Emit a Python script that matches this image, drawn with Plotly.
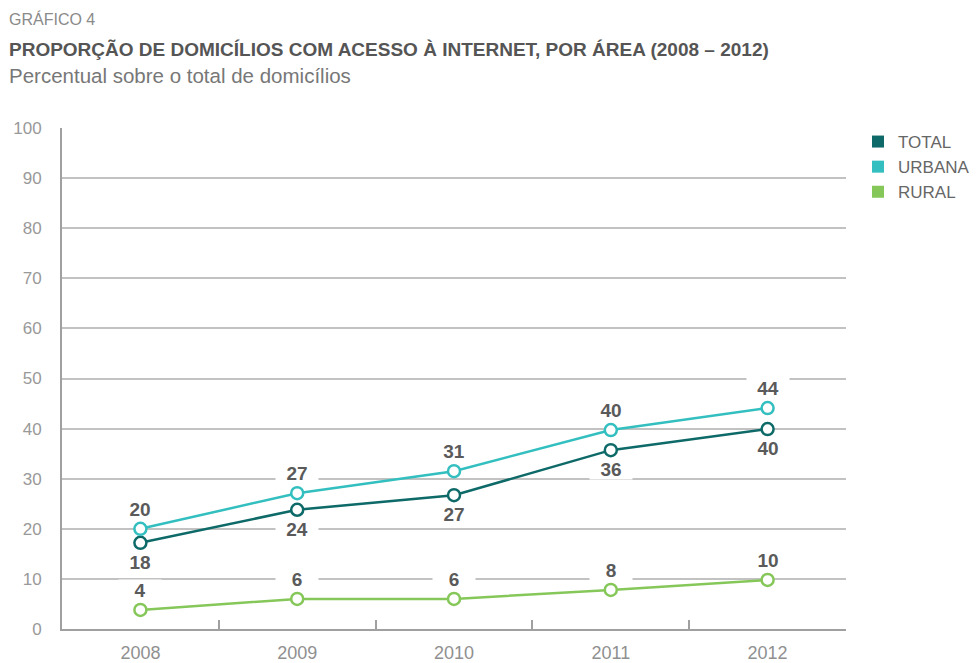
import plotly.graph_objects as go

years = [2008, 2009, 2010, 2011, 2012]
total = [17.2, 23.8, 26.7, 35.7, 39.9]
urbana = [20.0, 27.1, 31.5, 39.7, 44.1]
rural = [3.8, 6.0, 6.0, 7.8, 9.8]
total_labels = ["18", "24", "27", "36", "40"]
urbana_labels = ["20", "27", "31", "40", "44"]
rural_labels = ["4", "6", "6", "8", "10"]
y_ticks = [0, 10, 20, 30, 40, 50, 60, 70, 80, 90, 100]

C_TOTAL = "#0e6a68"
C_URB = "#33bfbf"
C_RUR = "#86c75a"
TXT = "#5a5a5a"
GRID = "#c2c2c2"
AXIS = "#a0a0a0"
FONT = "Liberation Sans, Arial, sans-serif"

ML, MR, MT, MB = 62, 131, 128, 34
PW, PH = 977 - ML - MR, 663 - MT - MB

fig = go.Figure()
series = [("TOTAL", total, total_labels, C_TOTAL, -1),
          ("URBANA", urbana, urbana_labels, C_URB, 1),
          ("RURAL", rural, rural_labels, C_RUR, 1)]
for name, vals, labs, col, pos in [series[2], series[0], series[1]]:
    fig.add_trace(go.Scatter(
        x=years, y=vals, mode="lines+markers", showlegend=False,
        line=dict(color=col, width=2.5),
        marker=dict(symbol="circle", size=12, color="white",
                    line=dict(color=col, width=2.5)),
        hoverinfo="skip"))
for name, vals, labs, col, pos in series:
    fig.add_trace(go.Scatter(
        x=[None], y=[None], mode="markers", name=name,
        marker=dict(symbol="square", size=16, color=col)))
    for x, v, t in zip(years, vals, labs):
        fig.add_annotation(
            x=x, y=v, xref="x", yref="y", text="<b>%s</b>" % t,
            showarrow=False, yshift=20 if pos > 0 else -19,
            bgcolor="white", width=40, height=18,
            font=dict(family=FONT, size=19, color=TXT))

fig.update_layout(
    width=977, height=663,
    margin=dict(l=ML, r=MR, t=MT, b=MB, autoexpand=False),
    plot_bgcolor="white", paper_bgcolor="white",
    font=dict(family=FONT, color="#8a8a8a"),
    legend=dict(xref="container", yref="container", x=858 / 977, y=1 - 124 / 663,
                xanchor="left", yanchor="top",
                font=dict(family=FONT, size=17, color="#666"),
                itemsizing="constant", tracegroupgap=0,
                bgcolor="rgba(0,0,0,0)"),
)
fig.update_xaxes(
    range=[2007.5, 2012.5], tickvals=years, ticktext=[str(y) for y in years],
    showgrid=False, zeroline=False, showline=True, linecolor=AXIS, linewidth=2,
    ticks="", ticklabelstandoff=6, automargin=False,
    tickfont=dict(family=FONT, size=18, color="#909090"),
    minor=dict(tickvals=[2008.5, 2009.5, 2010.5, 2011.5], ticks="inside",
               ticklen=9, tickwidth=2, tickcolor=AXIS, showgrid=False),
    fixedrange=True)
fig.update_yaxes(
    range=[0, 100], tickvals=y_ticks, showgrid=True, gridcolor=GRID, gridwidth=2,
    zeroline=False, showline=True, linecolor=AXIS, linewidth=2,
    ticks="", ticklabelstandoff=15, automargin=False,
    tickfont=dict(family=FONT, size=17, color="#999"), fixedrange=True)

def head(text, y_px, size, color, x_px=8):
    fig.add_annotation(xref="paper", yref="paper", x=(x_px - ML) / PW,
                       y=1 + (MT - y_px) / PH, xanchor="left", yanchor="middle",
                       showarrow=False, text=text, borderpad=0,
                       font=dict(family=FONT, size=size, color=color))

head("GRÁFICO 4", 19, 16, "#8a8a8a")
head("<b>PROPORÇÃO DE DOMICÍLIOS COM ACESSO À INTERNET, POR ÁREA (2008 – 2012)</b>",
     50, 19, "#555")
head("Percentual sobre o total de domicílios", 75, 20.5, "#777")

fig.write_html("out.html", config={"displayModeBar": False},
               post_script="document.body.style.margin='0px';")
